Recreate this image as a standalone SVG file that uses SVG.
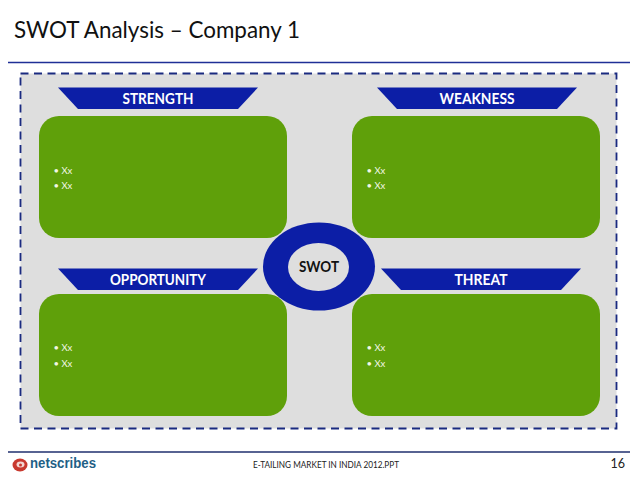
<svg xmlns="http://www.w3.org/2000/svg" width="638" height="479" viewBox="0 0 638 479">
<style>
text{font-family:"Lato","Liberation Sans",sans-serif}
.box{fill:#5fa00a}
.trap{fill:#0c1ea6}
.hd{font-size:14.500px;font-weight:700;fill:#fff;text-anchor:middle}
.bl{font-size:9.500px;fill:#f2f7e6}
</style>
<rect width="638" height="479" fill="#fff"/>
<text x="14" y="38" font-size="23" fill="#111" textLength="286" lengthAdjust="spacingAndGlyphs">SWOT Analysis – Company 1</text>
<line x1="8" y1="62.500" x2="630" y2="62.500" stroke="#1f2f96" stroke-width="1.300"/>
<rect x="20.500" y="73.500" width="596" height="355" fill="#dedede" stroke="#1a2a80" stroke-width="1.800" stroke-dasharray="8 5.500"/>
<g id="strength">
<path class="trap" d="M58 87.500H258L238 109H78Z"/>
<text class="hd" x="158" y="104" textLength="71" lengthAdjust="spacingAndGlyphs">STRENGTH</text>
<rect class="box" x="39" y="116" width="248" height="122" rx="20"/>
<text class="bl" x="53.500" y="174">• Xx</text><text class="bl" x="53.500" y="189">• Xx</text>
</g>
<g id="weakness">
<path class="trap" d="M377 87.500H577L557 109H397Z"/>
<text class="hd" x="477" y="104" textLength="75" lengthAdjust="spacingAndGlyphs">WEAKNESS</text>
<rect class="box" x="352" y="116" width="248" height="122" rx="20"/>
<text class="bl" x="366.500" y="174">• Xx</text><text class="bl" x="366.500" y="189">• Xx</text>
</g>
<g id="opportunity">
<path class="trap" d="M58 268.500H258L238 290H78Z"/>
<text class="hd" x="158" y="285" textLength="96" lengthAdjust="spacingAndGlyphs">OPPORTUNITY</text>
<rect class="box" x="39" y="294" width="248" height="122" rx="20"/>
<text class="bl" x="53.500" y="351">• Xx</text><text class="bl" x="53.500" y="367">• Xx</text>
</g>
<g id="threat">
<path class="trap" d="M381 268.500H581L561 290H401Z"/>
<text class="hd" x="481" y="285" textLength="53" lengthAdjust="spacingAndGlyphs">THREAT</text>
<rect class="box" x="352" y="294" width="248" height="122" rx="20"/>
<text class="bl" x="366.500" y="351">• Xx</text><text class="bl" x="366.500" y="367">• Xx</text>
</g>
<g id="swot">
<ellipse cx="319" cy="266.500" rx="56" ry="44" fill="#0c1ea6"/>
<ellipse cx="318.500" cy="267" rx="30.500" ry="24" fill="#dedede"/>
<text x="319" y="272" font-size="14.500" font-weight="700" fill="#111" text-anchor="middle" textLength="40" lengthAdjust="spacingAndGlyphs">SWOT</text>
</g>
<g id="connectors"/>
<line x1="8" y1="452" x2="630" y2="452" stroke="#1f2f6e" stroke-width="1.300"/>
<g id="logo">
<ellipse cx="20" cy="465" rx="7.500" ry="6.500" fill="#c8392f"/>
<ellipse cx="20.500" cy="464.500" rx="4" ry="3" fill="#f3d6d2"/>
<circle cx="20.500" cy="465" r="1.500" fill="#c8392f"/>
<text x="30" y="468" font-family="Liberation Sans" style="font-family:'Liberation Sans',sans-serif" font-size="14" font-weight="700" fill="#1f5f86" textLength="66" lengthAdjust="spacingAndGlyphs">netscribes</text>
</g>
<text x="253" y="468" font-size="8.500" fill="#222" textLength="146" lengthAdjust="spacingAndGlyphs">E-TAILING MARKET IN INDIA 2012.PPT</text>
<text x="625" y="468" font-size="12.500" fill="#222" text-anchor="end">16</text>
</svg>
